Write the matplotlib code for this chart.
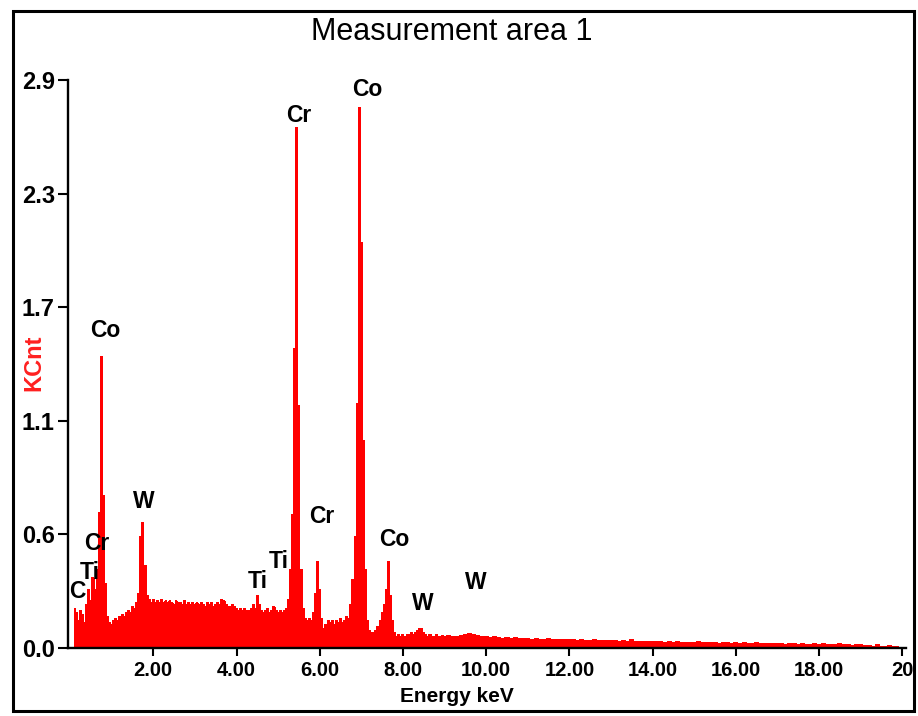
import numpy as np
import matplotlib
matplotlib.use("Agg")
import matplotlib.pyplot as plt
from matplotlib.patches import Rectangle

plt.rcParams['font.family'] = ['Liberation Sans', 'DejaVu Sans']

# ---------------- data ----------------
# EDS spectrum, channel grid 1: 0.10 .. 8.95 keV (0.05 keV), grid 2: 9.0 .. 19.9 keV (0.1 keV)
counts_lo = [
    # 0.10 - 0.95
    0.20, 0.18, 0.14, 0.19, 0.17, 0.13, 0.22, 0.30, 0.24, 0.36, 0.30, 0.40, 0.69, 1.49, 0.78, 0.33, 0.16, 0.13,
    # 1.00 - 1.95
    0.12, 0.14, 0.15, 0.14, 0.16, 0.17, 0.16, 0.18, 0.19, 0.18, 0.21, 0.20, 0.23, 0.28, 0.57, 0.64, 0.42, 0.27, 0.25, 0.23,
    # 2.00 - 2.95
    0.25, 0.23, 0.24, 0.23, 0.25, 0.23, 0.24, 0.23, 0.24, 0.23, 0.22, 0.24, 0.23, 0.23, 0.22, 0.24, 0.22, 0.23, 0.22, 0.23,
    # 3.00 - 3.95
    0.22, 0.23, 0.22, 0.23, 0.22, 0.21, 0.23, 0.22, 0.23, 0.21, 0.22, 0.23, 0.22, 0.25, 0.24, 0.22, 0.21, 0.21, 0.22, 0.21,
    # 4.00 - 4.95
    0.20, 0.19, 0.20, 0.19, 0.20, 0.19, 0.19, 0.20, 0.22, 0.20, 0.27, 0.22, 0.19, 0.18, 0.19, 0.20, 0.18, 0.19, 0.21, 0.19,
    # 5.00 - 5.95
    0.18, 0.19, 0.18, 0.19, 0.20, 0.25, 0.40, 0.68, 1.53, 2.66, 1.24, 0.40, 0.20, 0.15, 0.14, 0.15, 0.14, 0.18, 0.28, 0.44,
    # 6.00 - 6.95
    0.30, 0.15, 0.10, 0.12, 0.14, 0.13, 0.14, 0.12, 0.14, 0.13, 0.15, 0.13, 0.14, 0.16, 0.15, 0.22, 0.35, 0.57, 1.25, 2.76,
    # 7.00 - 7.95
    2.07, 1.06, 0.40, 0.14, 0.09, 0.08, 0.08, 0.09, 0.11, 0.14, 0.18, 0.22, 0.30, 0.44, 0.27, 0.14, 0.08, 0.06, 0.07, 0.06,
    # 8.00 - 8.95
    0.07, 0.06, 0.07, 0.07, 0.08, 0.07, 0.08, 0.09, 0.10, 0.10, 0.08, 0.07, 0.06, 0.07, 0.06, 0.06, 0.07, 0.06, 0.06, 0.065,
]
counts_hi = [
    0.06, 0.065, 0.06, 0.06, 0.065, 0.07, 0.075, 0.07, 0.065, 0.06,       # 9.x
    0.06, 0.055, 0.06, 0.055, 0.05, 0.055, 0.05, 0.055, 0.05, 0.05,       # 10.x
    0.05, 0.045, 0.05, 0.045, 0.045, 0.05, 0.045, 0.045, 0.045, 0.045,   # 11.x
    0.045, 0.045, 0.04, 0.045, 0.04, 0.04, 0.045, 0.04, 0.04, 0.04,      # 12.x
    0.04, 0.04, 0.035, 0.04, 0.035, 0.045, 0.035, 0.035, 0.035, 0.035,   # 13.x
    0.035, 0.035, 0.035, 0.03, 0.035, 0.03, 0.035, 0.03, 0.03, 0.03,     # 14.x
    0.03, 0.035, 0.03, 0.03, 0.03, 0.03, 0.025, 0.03, 0.03, 0.025,       # 15.x
    0.03, 0.025, 0.03, 0.025, 0.025, 0.03, 0.025, 0.025, 0.025, 0.025,   # 16.x
    0.025, 0.025, 0.02, 0.025, 0.025, 0.02, 0.025, 0.02, 0.02, 0.025,    # 17.x
    0.02, 0.025, 0.02, 0.02, 0.02, 0.025, 0.02, 0.02, 0.015, 0.02,       # 18.x
    0.02, 0.015, 0.015, 0.01, 0.02, 0.01, 0.01, 0.015, 0.01, 0.01,       # 19.x
]
lo_start, lo_step = 0.10, 0.05
hi_start, hi_step = 9.0, 0.1

peak_labels = ["C", "Ti", "Cr", "Co", "W", "Ti", "Ti", "Cr", "Cr", "Co", "Co", "W", "W"]
peak_label_pos = [  # (energy keV, KCnt) where the label sits
    (0.17, 0.291), (0.48, 0.383), (0.65, 0.536), (0.84, 1.62), (1.78, 0.75),
    (4.52, 0.342), (5.02, 0.444), (5.50, 2.72), (6.06, 0.669), (7.14, 2.85),
    (7.79, 0.556), (8.48, 0.225), (9.76, 0.332),
]

x_ticks = [2, 4, 6, 8, 10, 12, 14, 16, 18, 20]
x_tick_labels = ["2.00", "4.00", "6.00", "8.00", "10.00", "12.00", "14.00", "16.00", "18.00", "20"]
y_max = 2.9
y_tick_labels = ["0.0", "0.6", "1.1", "1.7", "2.3", "2.9"]

# ---------------- figure ----------------
W, H = 918, 716
fig = plt.figure(figsize=(W / 100, H / 100), dpi=100)

ax_l, ax_r, ax_t, ax_b = 68, 906, 80, 648
ax = fig.add_axes([ax_l / W, 1 - ax_b / H, (ax_r - ax_l) / W, (ax_b - ax_t) / H])

e_lo = np.round(lo_start + lo_step * np.arange(len(counts_lo)), 3)
e_hi = np.round(hi_start + hi_step * np.arange(len(counts_hi)), 3)
energy = np.concatenate([e_lo, e_hi])
counts = np.array(counts_lo + counts_hi)

ax.fill_between(energy, 0, counts, step="mid", facecolor="#ff0000",
                edgecolor="none", linewidth=0, antialiased=False, zorder=2)

ax.set_xlim(-0.05, 20.09)
ax.set_ylim(0, y_max)

ax.set_xticks(x_ticks)
ax.set_xticklabels(x_tick_labels, fontsize=14.5, fontweight="bold")
y_ticks = [y_max * i / (len(y_tick_labels) - 1) for i in range(len(y_tick_labels))]
ax.set_yticks(y_ticks)
ax.set_yticklabels(y_tick_labels, fontsize=17, fontweight="bold")

ax.tick_params(axis="y", length=7.5, width=1.5, pad=2, direction="out")
ax.tick_params(axis="x", length=5.5, width=1.5, pad=4, direction="out")

for s in ["top", "right"]:
    ax.spines[s].set_visible(False)
for s in ["left", "bottom"]:
    ax.spines[s].set_linewidth(1.7)
    ax.spines[s].set_zorder(5)
ax.patch.set_alpha(0)

for lab, (ex, ey) in zip(peak_labels, peak_label_pos):
    ax.text(ex, ey, lab, ha="center", va="center", fontsize=16.5, fontweight="bold",
            color="black", zorder=6)

fig.text(452 / W, 1 - 32 / H, "Measurement area 1", ha="center", va="center", fontsize=22)
fig.text(34 / W, 1 - 363 / H, "KCnt", ha="center", va="center", rotation=90,
         fontsize=17, fontweight="bold", color="#ff2020")
fig.text(457 / W, 1 - 697 / H, "Energy keV", ha="center", va="center",
         fontsize=15, fontweight="bold")

fig.patches.append(Rectangle((13 / W, 1 - 711 / H), (914 - 13) / W, (711 - 11) / H,
                             transform=fig.transFigure, fill=False, lw=2.2,
                             edgecolor="black", zorder=10))

fig.savefig("out.png", dpi=100, facecolor="white")
